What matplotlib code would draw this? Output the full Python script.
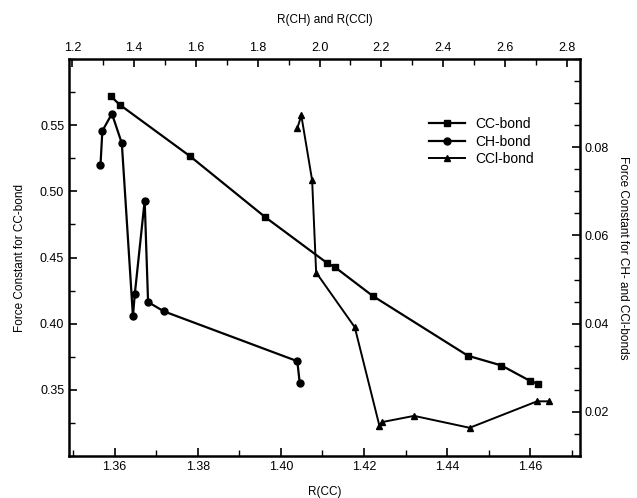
import matplotlib.pyplot as plt
from matplotlib.ticker import MultipleLocator

plt.rcParams['font.family'] = ['Liberation Sans', 'DejaVu Sans']
plt.rcParams['font.size'] = 8.5

# CC-bond: R(CC) vs force constant (bottom / left axes)
cc_r = [1.3590, 1.3612, 1.3782, 1.3962, 1.4111, 1.4131, 1.4221, 1.4450, 1.4531, 1.4599, 1.4620]
cc_k = [0.5721, 0.5655, 0.5264, 0.4806, 0.4459, 0.4425, 0.4210, 0.3758, 0.3684, 0.3569, 0.3544]

# CH-bond: R(CH) vs force constant (top / right axes)
ch_r = [1.291, 1.297, 1.328, 1.360, 1.396, 1.402, 1.434, 1.445, 1.496, 1.928, 1.936]
ch_k = [0.0760, 0.0837, 0.0876, 0.0809, 0.0417, 0.0467, 0.0679, 0.0449, 0.0428, 0.0315, 0.0265]

# CCl-bond: R(CCl) vs force constant (top / right axes)
ccl_r = [1.928, 1.941, 1.976, 1.989, 2.114, 2.194, 2.203, 2.306, 2.486, 2.704, 2.744]
ccl_k = [0.0843, 0.0872, 0.0725, 0.0516, 0.0392, 0.0168, 0.0177, 0.0191, 0.0164, 0.0224, 0.0224]

fig = plt.figure(figsize=(6.37, 4.98), dpi=100)
rect = [0.1083, 0.0843, 0.8022, 0.7972]
ax = fig.add_axes(rect)
ax2 = fig.add_axes(rect, frameon=False)

l1, = ax.plot(cc_r, cc_k, color='black', lw=1.6, marker='s', ms=5, label='CC-bond')
l2, = ax2.plot(ch_r, ch_k, color='black', lw=1.6, marker='o', ms=5, label='CH-bond')
l3, = ax2.plot(ccl_r, ccl_k, color='black', lw=1.4, marker='^', ms=4, label='CCl-bond')

ax.set_xlim(1.349, 1.472)
ax.set_ylim(0.30, 0.60)
ax.set_xticks([1.36, 1.38, 1.40, 1.42, 1.44, 1.46])
ax.xaxis.set_minor_locator(MultipleLocator(0.01))
ax.set_yticks([0.35, 0.40, 0.45, 0.50, 0.55])
ax.yaxis.set_minor_locator(MultipleLocator(0.025))
ax.set_xlabel('R(CC)')
ax.xaxis.set_label_coords(0.5, -0.075)
ax.set_ylabel('Force Constant for CC-bond', labelpad=10)

ax2.set_xlim(1.189, 2.843)
ax2.set_ylim(0.01, 0.10)
ax2.xaxis.tick_top()
ax2.xaxis.set_label_position('top')
ax2.yaxis.tick_right()
ax2.yaxis.set_label_position('right')
ax2.set_xticks([1.2, 1.4, 1.6, 1.8, 2.0, 2.2, 2.4, 2.6, 2.8])
ax2.xaxis.set_minor_locator(MultipleLocator(0.1))
ax2.set_yticks([0.02, 0.04, 0.06, 0.08])
ax2.yaxis.set_minor_locator(MultipleLocator(0.005))
ax2.set_xlabel('R(CH) and R(CCl)', labelpad=14)
ax2.set_ylabel('Force Constant for CH- and CCl-bonds', rotation=270, labelpad=14)

for a in (ax, ax2):
    a.tick_params(which='major', direction='in', length=6, width=1.2, labelsize=9)
    a.tick_params(which='minor', direction='in', length=4, width=1.0)
for s in ax.spines.values():
    s.set_linewidth(1.8)

ax2.legend(handles=[l1, l2, l3], loc='upper left', bbox_to_anchor=(0.68, 0.885),
           frameon=False, handlelength=2.6, handletextpad=0.7, labelspacing=0.25,
           fontsize=10)

fig.savefig('out.png', dpi=100)
